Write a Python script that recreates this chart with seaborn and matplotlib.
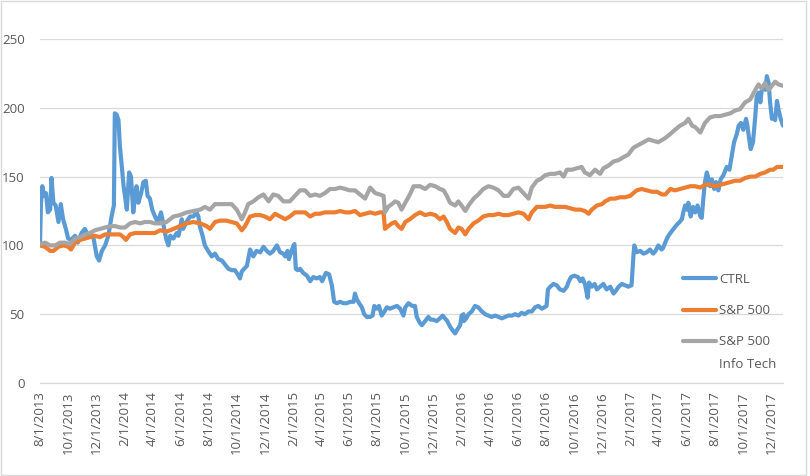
import numpy as np
import pandas as pd
import matplotlib
matplotlib.use("Agg")
import matplotlib.pyplot as plt
import matplotlib.dates as mdates
from matplotlib.patches import Rectangle
import seaborn as sns

# ---------------- data (days since 8/1/2013, indexed value) ----------------
start_date = "2013-08-01"

ctrl_days = [0, 2, 5, 9, 13, 17, 22, 25, 29, 34, 40, 45, 50, 56, 61, 67, 76, 82, 90, 97,
             105, 115, 123, 128, 134, 141, 148, 155, 160, 162, 166, 170, 173, 177, 181, 184, 188, 193, 197, 202,
             206, 209, 213, 219, 224, 229, 233, 238, 243, 249, 255, 262, 268, 273, 278, 282, 289, 296, 300, 307,
             310, 317, 325, 332, 339, 343, 346, 352, 357, 364, 372, 379, 386, 394, 401, 408, 415, 422, 430, 433,
             437, 442, 448, 451, 455, 462, 469, 477, 484, 491, 498, 505, 513, 520, 527, 531, 536, 539, 544, 549,
             551, 554, 558, 563, 570, 578, 585, 592, 599, 606, 611, 619, 626, 632, 637, 643, 650, 657, 664, 672,
             679, 682, 686, 691, 697, 702, 708, 715, 720, 724, 729, 734, 740, 746, 751, 758, 765, 773, 780, 787,
             791, 798, 806, 812, 816, 822, 827, 834, 841, 846, 852, 859, 866, 872, 877, 882, 888, 894, 899, 904,
             910, 913, 917, 918, 923, 928, 935, 942, 949, 957, 964, 971, 978, 986, 993, 1000, 1007, 1014, 1022, 1029,
             1036, 1043, 1050, 1058, 1065, 1072, 1079, 1087, 1092, 1097, 1100, 1105, 1112, 1119, 1126, 1134, 1141, 1144, 1150, 1157,
             1165, 1170, 1175, 1180, 1186, 1189, 1195, 1201, 1206, 1213, 1220, 1227, 1235, 1242, 1247, 1253, 1260, 1267, 1274, 1281,
             1285, 1287, 1292, 1300, 1307, 1314, 1321, 1328, 1333, 1339, 1346, 1349, 1354, 1359, 1365, 1372, 1379, 1385, 1390, 1393,
             1397, 1401, 1404, 1409, 1414, 1419, 1424, 1430, 1433, 1437, 1440, 1444, 1448, 1451, 1455, 1460, 1464, 1469, 1474, 1480,
             1487, 1493, 1498, 1503, 1509, 1513, 1518, 1523, 1529, 1532, 1535, 1539, 1544, 1549, 1552, 1556, 1560, 1563, 1567, 1571,
             1574, 1578, 1581, 1585, 1588, 1592, 1596, 1599, 1604, 1609]
ctrl_vals = [100, 130, 143, 136, 138, 124, 126, 149, 131, 129, 117, 130, 119, 112, 105, 104, 107, 102, 109, 112,
             107, 107, 92, 89, 96, 100, 107, 121, 129, 196, 195, 191, 172, 158, 143, 136, 126, 153, 150, 124,
             136, 143, 131, 138, 146, 147, 136, 134, 126, 121, 117, 124, 114, 105, 100, 107, 105, 109, 107, 119,
             112, 117, 121, 121, 124, 121, 114, 107, 100, 96, 92, 94, 90, 89, 86, 83, 82, 82, 78, 76,
             81, 83, 85, 90, 97, 92, 96, 95, 99, 96, 94, 96, 100, 95, 94, 92, 96, 90, 95, 100,
             101, 83, 82, 83, 80, 78, 74, 77, 76, 77, 74, 80, 79, 71, 59, 58, 59, 58, 58, 59,
             59, 65, 61, 58, 55, 50, 48, 48, 49, 56, 54, 56, 49, 52, 55, 54, 55, 56, 54, 49,
             55, 58, 56, 56, 48, 44, 42, 45, 48, 46, 46, 45, 47, 49, 47, 45, 41, 38, 36, 39,
             42, 49, 50, 45, 47, 50, 52, 56, 55, 52, 50, 49, 48, 49, 48, 47, 48, 49, 49, 50,
             49, 51, 50, 52, 52, 55, 56, 54, 55, 56, 68, 70, 72, 71, 68, 67, 70, 73, 77, 78,
             77, 74, 76, 72, 62, 73, 70, 72, 68, 70, 72, 68, 70, 65, 67, 70, 72, 71, 70, 71,
             92, 100, 95, 96, 94, 95, 97, 94, 96, 100, 97, 98, 102, 106, 109, 112, 115, 117, 119, 124,
             129, 126, 131, 121, 128, 124, 129, 121, 120, 136, 146, 153, 148, 143, 148, 141, 146, 140, 148, 151,
             157, 155, 165, 175, 181, 187, 189, 184, 192, 187, 179, 170, 175, 194, 208, 211, 204, 213, 216, 213,
             223, 218, 204, 192, 194, 191, 205, 199, 192, 187]

sp_days = [0, 11, 22, 29, 40, 51, 61, 67, 76, 87, 98, 108, 119, 130, 141, 152, 163, 173, 181, 186,
           195, 206, 217, 227, 238, 249, 260, 274, 289, 303, 318, 332, 347, 361, 368, 379, 390, 404, 415, 426,
           437, 444, 455, 466, 477, 487, 498, 509, 520, 531, 541, 552, 563, 574, 585, 596, 606, 617, 628, 639,
           650, 661, 671, 682, 693, 704, 715, 726, 736, 744, 747, 754, 762, 769, 776, 783, 791, 801, 812, 823,
           834, 845, 856, 866, 874, 881, 888, 899, 906, 913, 921, 928, 939, 949, 960, 971, 982, 993, 1004, 1014,
           1025, 1036, 1047, 1058, 1065, 1076, 1083, 1094, 1105, 1115, 1126, 1137, 1148, 1159, 1170, 1180, 1188, 1195, 1206, 1217,
           1224, 1235, 1245, 1256, 1267, 1278, 1285, 1292, 1303, 1314, 1325, 1336, 1347, 1354, 1365, 1375, 1386, 1397, 1408, 1419,
           1430, 1440, 1451, 1462, 1473, 1484, 1495, 1505, 1516, 1527, 1538, 1549, 1560, 1570, 1581, 1588, 1596, 1603, 1609]
sp_vals = [100, 99, 96, 96, 99, 100, 99, 97, 102, 104, 105, 106, 107, 106, 108, 108, 108, 108, 106, 104,
           108, 109, 109, 109, 109, 109, 111, 110, 112, 114, 116, 117, 116, 114, 112, 117, 118, 118, 117, 116,
           111, 114, 121, 122, 122, 121, 119, 123, 121, 119, 121, 124, 124, 124, 121, 123, 123, 124, 124, 124,
           125, 124, 124, 125, 122, 123, 124, 123, 124, 124, 112, 114, 116, 117, 114, 112, 117, 119, 122, 124,
           122, 123, 122, 119, 121, 117, 112, 109, 113, 112, 108, 112, 116, 118, 121, 122, 122, 123, 122, 122,
           123, 124, 123, 119, 124, 128, 128, 128, 129, 128, 128, 128, 127, 126, 126, 125, 123, 126, 129, 130,
           132, 134, 134, 135, 135, 136, 138, 140, 141, 140, 139, 139, 137, 137, 141, 140, 141, 142, 143, 143,
           142, 144, 144, 143, 144, 145, 146, 147, 147, 149, 150, 150, 152, 153, 155, 155, 157, 157, 157]

it_days = [0, 11, 22, 33, 43, 54, 65, 76, 87, 98, 108, 119, 130, 141, 152, 163, 173, 184, 195, 206,
           217, 227, 238, 249, 260, 274, 289, 303, 318, 332, 347, 357, 368, 379, 390, 404, 415, 426, 437, 444,
           451, 462, 473, 484, 495, 505, 516, 527, 541, 552, 563, 574, 585, 596, 606, 617, 628, 639, 650, 661,
           671, 682, 693, 704, 715, 726, 736, 744, 747, 754, 762, 769, 776, 783, 791, 801, 809, 823, 834, 845,
           856, 866, 874, 881, 888, 899, 906, 913, 921, 928, 939, 949, 960, 971, 982, 993, 1004, 1014, 1025, 1036,
           1047, 1058, 1065, 1076, 1083, 1094, 1105, 1115, 1126, 1134, 1141, 1152, 1162, 1173, 1180, 1191, 1202, 1213, 1220, 1231,
           1242, 1253, 1263, 1274, 1285, 1296, 1307, 1318, 1328, 1339, 1354, 1365, 1375, 1386, 1397, 1404, 1412, 1419, 1430, 1440,
           1451, 1462, 1473, 1484, 1495, 1505, 1516, 1527, 1538, 1549, 1556, 1563, 1570, 1578, 1585, 1592, 1599, 1609]
it_vals = [101, 102, 100, 100, 102, 102, 101, 105, 106, 108, 109, 111, 112, 113, 114, 114, 113, 113, 116, 117,
           116, 117, 117, 116, 116, 117, 121, 122, 124, 125, 126, 128, 126, 130, 130, 130, 130, 126, 119, 124,
           130, 132, 135, 137, 132, 137, 136, 132, 132, 136, 140, 140, 136, 137, 136, 138, 141, 141, 142, 141,
           140, 140, 137, 134, 142, 138, 137, 136, 124, 128, 130, 132, 131, 126, 131, 137, 143, 143, 141, 144,
           143, 141, 140, 136, 131, 129, 132, 129, 125, 129, 134, 137, 141, 143, 142, 140, 136, 136, 141, 142,
           138, 134, 142, 147, 148, 151, 152, 152, 153, 150, 155, 155, 156, 157, 153, 151, 155, 152, 156, 158,
           161, 162, 164, 166, 171, 173, 175, 177, 176, 175, 178, 181, 184, 187, 189, 192, 187, 186, 182, 189,
           193, 194, 194, 195, 196, 198, 199, 204, 206, 213, 217, 214, 218, 213, 216, 219, 217, 216]

series_names = ["CTRL", "S&P 500", "S&P 500 Info Tech"]
legend_first_lines = ["CTRL", "S&P 500", "S&P 500"]
legend_extra_line = "Info Tech"
series_colors = ["#5B9BD5", "#ED7D31", "#A5A5A5"]
y_ticks = [0, 50, 100, 150, 200, 250]

# ---------------- build table ----------------
base = pd.Timestamp(start_date)
frames = []
for name, d, v in zip(series_names, [ctrl_days, sp_days, it_days], [ctrl_vals, sp_vals, it_vals]):
    frames.append(pd.DataFrame({
        "date": base + pd.to_timedelta(np.array(d), unit="D"),
        "value": v,
        "series": name,
    }))
df = pd.concat(frames, ignore_index=True)

# ---------------- plot ----------------
sns.set_style("white")
plt.rcParams["font.family"] = ["Open Sans", "DejaVu Sans"]

fig = plt.figure(figsize=(8.1, 4.76), dpi=100)
ax = fig.add_axes([40 / 810, 1 - 383 / 476, (783 - 40) / 810, (383 - 39) / 476])

sns.lineplot(data=df, x="date", y="value", hue="series", hue_order=series_names,
             palette=series_colors, estimator=None, sort=False, linewidth=3.0,
             legend=False, ax=ax)

ax.set_xlim(base, base + pd.Timedelta(days=1609))
ax.set_ylim(0, 250)
ax.set_yticks(y_ticks)
ax.yaxis.grid(True, color="#D9D9D9", linewidth=0.9)
ax.xaxis.grid(False)
ax.set_axisbelow(True)
for s in ["left", "top", "right"]:
    ax.spines[s].set_visible(False)
ax.spines["bottom"].set_color("#D9D9D9")
ax.spines["bottom"].set_linewidth(0.9)

ax.xaxis.set_major_locator(mdates.MonthLocator(bymonth=[2, 4, 6, 8, 10, 12], bymonthday=1))
ax.xaxis.set_major_formatter(
    matplotlib.ticker.FuncFormatter(lambda x, p: (lambda d: f"{d.month}/{d.day}/{d.year}")(mdates.num2date(x))))
ax.tick_params(axis="x", length=0, pad=6, labelrotation=90, labelsize=9.5, labelcolor="#595959")
ax.tick_params(axis="y", length=0, pad=11, labelsize=9.5, labelcolor="#595959")
ax.set_xlabel("")
ax.set_ylabel("")

# legend
lines = ax.get_lines()[:3]
leg = ax.legend(lines, legend_first_lines, loc="upper left",
                bbox_to_anchor=(683 / 810, 1 - 273 / 476), bbox_transform=fig.transFigure,
                frameon=False, fontsize=9.5, handlelength=2.5, handletextpad=0.25,
                labelspacing=1.38, borderpad=0, borderaxespad=0)
leg.set_zorder(5)
for t in leg.get_texts():
    t.set_color("#595959")
ann = ax.annotate(legend_extra_line, xy=(0, 0.5), xycoords=leg.get_texts()[2],
                  xytext=(0, -16), textcoords="offset points", ha="left", va="center",
                  fontsize=9.5, color="#595959", annotation_clip=False)
ann.set_zorder(10)

# chart-area border
fig.patches.append(Rectangle((1 / 810, 1 / 476), 805 / 810, 474 / 476, transform=fig.transFigure,
                             fill=False, edgecolor="#D9D9D9", linewidth=1))

fig.savefig("out.png", dpi=100)
